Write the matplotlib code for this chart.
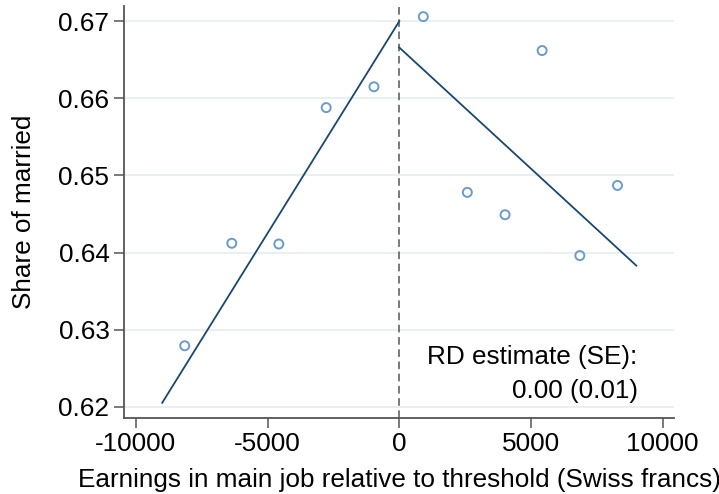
import matplotlib
matplotlib.use("Agg")
import matplotlib.pyplot as plt
import numpy as np

plt.rcParams['font.family'] = ['Liberation Sans', 'DejaVu Sans']

# Binned scatter data
bin_x = [-8144, -6358, -4572, -2774, -961, 912, 2584, 4017, 5423, 6855, 8284]
bin_y = [0.6279, 0.6412, 0.6411, 0.6588, 0.6615, 0.6706, 0.6478, 0.6449, 0.6662, 0.6396, 0.6487]

# Fitted lines (left and right of threshold)
left_x = [-9000, 0]
left_y = [0.6205, 0.6700]
right_x = [0, 9000]
right_y = [0.6666, 0.6383]

xticks = [-10000, -5000, 0, 5000, 10000]
yticks = [0.62, 0.63, 0.64, 0.65, 0.66, 0.67]
yticklabels = ["0.62", "0.63", "0.64", "0.65", "0.66", "0.67"]

fig = plt.figure(figsize=(7.19, 4.94), dpi=100)
ax = fig.add_axes([124/719, 1-418/494, (674-124)/719, (418-6)/494])

for yt in yticks:
    ax.axhline(yt, color='#e8eff1', lw=1.3, zorder=0)

ax.plot(left_x, left_y, color='#1a476f', lw=1.3, zorder=3)
ax.plot(right_x, right_y, color='#1a476f', lw=1.3, zorder=3)
ax.scatter(bin_x, bin_y, s=42, facecolors='none', edgecolors='#6b9bc9', linewidths=1.4, zorder=4)
ax.axvline(0, color='#555555', lw=1.1, ls=(0, (5, 3)), zorder=2)

ax.set_xlim(-10450, 10430)
ax.set_ylim(0.61853, 0.67198)
ax.set_xticks(xticks)
ax.set_xticklabels([str(t) for t in xticks])
ax.set_yticks(yticks)
ax.set_yticklabels(yticklabels)

for s in ['top', 'right']:
    ax.spines[s].set_visible(False)
for s in ['left', 'bottom']:
    ax.spines[s].set_color('#555555')
    ax.spines[s].set_linewidth(1.3)
ax.tick_params(axis='both', labelsize=18.8, length=7, width=1.1, color='#555555', labelcolor='black')
ax.tick_params(axis='x', pad=3)

ax.set_xlabel("Earnings in main job relative to threshold (Swiss francs)", fontsize=18.8, labelpad=9)
ax.set_ylabel("Share of married", fontsize=18.8, labelpad=16)

ax.text(9050, 0.6265, "RD estimate (SE):", ha='right', va='center', fontsize=18.8)
ax.text(9050, 0.6220, "0.00 (0.01)", ha='right', va='center', fontsize=18.8)

fig.savefig("out.png", dpi=100)
